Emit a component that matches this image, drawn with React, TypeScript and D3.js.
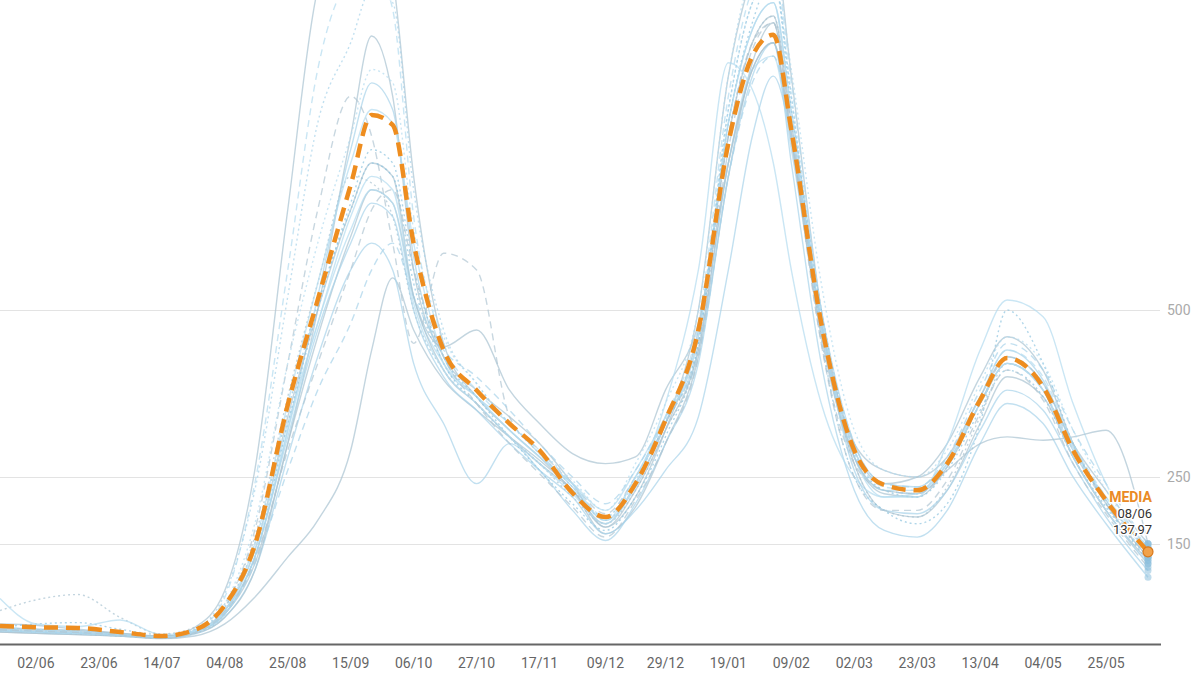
import React, { useEffect, useRef } from 'react';
import * as d3 from 'd3';

// anchor dates shared by every series
const dates = [
  '2020-05-21', '2020-06-02', '2020-06-16', '2020-06-30', '2020-07-14', '2020-07-25',
  '2020-08-04', '2020-08-14', '2020-08-25', '2020-09-04', '2020-09-15', '2020-09-22',
  '2020-09-29', '2020-10-06', '2020-10-16', '2020-10-27', '2020-11-07', '2020-11-17',
  '2020-11-28', '2020-12-09', '2020-12-19', '2020-12-29', '2021-01-09', '2021-01-19',
  '2021-01-27', '2021-02-03', '2021-02-09', '2021-02-19', '2021-03-02', '2021-03-12',
  '2021-03-23', '2021-04-02', '2021-04-13', '2021-04-22', '2021-05-04', '2021-05-14',
  '2021-05-25', '2021-06-08',
];

const media = [27, 25, 24, 18, 12, 21, 58, 148, 358, 515, 687, 792, 777, 600, 440, 380, 330, 290, 226, 190, 240, 335, 470, 750, 880, 912, 770, 480, 290, 238, 230, 270, 365, 428, 385, 290, 215, 137.97];

const s1 = [22, 20, 18, 14, 10, 25, 80, 260, 650, 980, 1080, 1100, 1000, 700, 450, 370, 320, 280, 230, 180, 240, 330, 500, 850, 1000, 1050, 850, 500, 290, 240, 250, 300, 400, 460, 410, 300, 210, 130];
const s2 = [30, 28, 22, 16, 12, 18, 45, 120, 300, 500, 760, 910, 820, 560, 430, 380, 340, 300, 240, 175, 220, 320, 470, 760, 900, 940, 780, 480, 280, 225, 220, 265, 360, 420, 380, 280, 200, 125];
const s3 = [25, 22, 20, 15, 11, 20, 50, 130, 320, 520, 740, 840, 800, 580, 420, 370, 330, 285, 235, 185, 235, 330, 460, 780, 920, 960, 800, 500, 300, 240, 235, 275, 370, 440, 395, 295, 215, 140];
const s4 = [18, 16, 14, 12, 8, 12, 30, 70, 130, 185, 290, 440, 548, 470, 395, 350, 310, 275, 230, 165, 205, 300, 430, 700, 870, 930, 760, 470, 270, 200, 190, 230, 330, 400, 370, 280, 200, 120];
const s5 = [20, 18, 16, 13, 10, 18, 55, 170, 420, 650, 820, 760, 600, 450, 585, 560, 340, 290, 240, 195, 250, 330, 450, 760, 900, 930, 760, 450, 270, 230, 225, 265, 360, 430, 390, 290, 210, 130];
const s6 = [24, 22, 20, 16, 12, 20, 50, 140, 340, 500, 650, 720, 700, 520, 445, 470, 380, 330, 285, 270, 280, 380, 480, 720, 860, 900, 760, 480, 300, 260, 250, 280, 370, 430, 390, 300, 230, 150];
const s7 = [20, 18, 16, 12, 9, 15, 40, 110, 280, 430, 560, 600, 560, 420, 330, 240, 300, 260, 200, 155, 210, 300, 420, 700, 850, 900, 720, 420, 230, 170, 160, 200, 300, 360, 330, 250, 180, 100];
const s8 = [25, 30, 32, 22, 14, 22, 55, 150, 350, 510, 650, 720, 700, 540, 420, 360, 310, 270, 230, 190, 250, 330, 450, 780, 930, 1000, 800, 500, 290, 230, 220, 260, 350, 410, 370, 280, 205, 130];
const s9 = [50, 66, 74, 40, 15, 25, 60, 160, 370, 540, 700, 690, 640, 500, 410, 360, 310, 270, 220, 180, 230, 320, 440, 760, 900, 940, 780, 480, 270, 200, 190, 235, 340, 420, 380, 290, 215, 140];
const s10 = [68, 30, 26, 36, 14, 20, 50, 140, 330, 480, 640, 700, 680, 520, 420, 370, 320, 280, 240, 200, 260, 340, 440, 720, 860, 880, 740, 470, 280, 230, 230, 270, 360, 420, 380, 290, 220, 145];
const s11 = [22, 20, 18, 15, 10, 18, 45, 120, 260, 380, 480, 560, 600, 520, 440, 400, 350, 300, 250, 210, 260, 340, 430, 700, 840, 880, 760, 490, 300, 240, 235, 280, 380, 450, 410, 320, 240, 150];
const s12 = [20, 18, 16, 14, 10, 18, 50, 150, 360, 540, 720, 800, 780, 600, 430, 370, 320, 280, 240, 185, 250, 340, 460, 780, 920, 960, 790, 480, 280, 220, 220, 300, 440, 515, 490, 360, 240, 140];
const s13 = [20, 18, 15, 12, 9, 16, 45, 130, 330, 500, 660, 740, 720, 560, 430, 370, 310, 260, 210, 170, 220, 310, 450, 800, 960, 1000, 820, 460, 250, 200, 180, 210, 330, 500, 420, 300, 210, 125];
const s14 = [18, 16, 14, 12, 9, 16, 40, 110, 300, 460, 610, 680, 660, 520, 410, 360, 310, 270, 230, 175, 230, 320, 440, 720, 860, 900, 750, 460, 280, 230, 225, 260, 300, 310, 305, 310, 320, 150];
const s15 = [24, 22, 19, 14, 10, 20, 60, 180, 420, 600, 760, 860, 840, 620, 460, 390, 330, 290, 245, 200, 270, 360, 500, 850, 1000, 1020, 860, 540, 320, 260, 250, 290, 390, 460, 420, 320, 230, 145];
const s16 = [20, 18, 16, 13, 10, 18, 45, 130, 320, 480, 620, 680, 660, 510, 410, 360, 310, 270, 225, 180, 240, 360, 560, 870, 830, 720, 560, 360, 250, 220, 225, 270, 360, 420, 380, 280, 200, 120];
const s17 = [20, 18, 16, 13, 10, 18, 45, 130, 310, 470, 600, 660, 640, 500, 400, 350, 300, 260, 220, 165, 200, 260, 340, 560, 760, 850, 760, 480, 260, 200, 195, 230, 320, 380, 350, 270, 190, 110];
const s18 = [20, 18, 16, 13, 10, 20, 70, 240, 560, 860, 1000, 1020, 950, 640, 450, 380, 330, 290, 240, 190, 250, 340, 480, 820, 980, 1020, 840, 500, 290, 235, 230, 270, 370, 440, 400, 300, 220, 135];
const s19 = [22, 20, 18, 14, 10, 22, 75, 230, 520, 780, 900, 980, 960, 680, 470, 390, 330, 285, 235, 185, 245, 335, 470, 800, 960, 1000, 820, 490, 285, 230, 225, 265, 360, 430, 390, 300, 215, 130];
const s20 = [21, 19, 17, 13, 9, 17, 48, 125, 290, 420, 560, 650, 680, 560, 430, 360, 300, 255, 205, 160, 215, 300, 430, 740, 890, 930, 770, 450, 250, 200, 200, 245, 345, 410, 365, 270, 195, 115];

const series = [s1, s2, s3, s4, s5, s6, s7, s8, s9, s10, s11, s12, s13, s14, s15, s16, s17, s18, s19, s20];
// look of each thin line: colour, dash
const lineStyles = [
  ['#a9c3d2', ''], ['#a9c3d2', ''], ['#a8d3ea', ''], ['#a9c3d2', ''], ['#b0c6d3', '7,5'],
  ['#a9c3d2', ''], ['#a8d3ea', ''], ['#8fc4e0', '2,3'], ['#a9c3d2', '2,3'], ['#b3dbef', ''],
  ['#a8d3ea', '7,5'], ['#b3dbef', ''], ['#8fc4e0', '2,3'], ['#a9c3d2', ''], ['#b3dbef', '2,3'],
  ['#b3dbef', ''], ['#a8d3ea', ''], ['#b3dbef', '7,5'], ['#a8d3ea', '2,3'], ['#b0c6d3', '7,5'],
];

const xTicks = [
  '2020-06-02', '2020-06-23', '2020-07-14', '2020-08-04', '2020-08-25', '2020-09-15',
  '2020-10-06', '2020-10-27', '2020-11-17', '2020-12-09', '2020-12-29', '2021-01-19',
  '2021-02-09', '2021-03-02', '2021-03-23', '2021-04-13', '2021-05-04', '2021-05-25',
];
const yTicks = [150, 250, 500];

const App = () => {
  const ref = useRef(null);

  useEffect(() => {
    if (!ref.current) return;
    document.body.style.margin = '0';
    const svg = d3.select(ref.current);
    svg.selectAll('*').remove();

    const font = 'Roboto, sans-serif';
    const parse = d3.utcParse('%Y-%m-%d');
    const xs = dates.map(d => parse(d));

    const x = d3.scaleUtc().domain([parse('2020-05-21'), parse('2021-06-08')]).range([0, 1148]);
    const y = d3.scaleLinear().domain([0, 964]).range([644, 0]);

    svg.append('defs').append('clipPath').attr('id', 'plot')
      .append('rect').attr('x', 0).attr('y', 0).attr('width', 1200).attr('height', 644);

    // grid
    svg.append('g')
      .selectAll('line')
      .data(yTicks)
      .join('line')
      .attr('x1', 0)
      .attr('x2', 1160)
      .attr('y1', d => Math.round(y(d)) + 0.5)
      .attr('y2', d => Math.round(y(d)) + 0.5)
      .attr('stroke', '#e3e3e3');

    svg.append('g')
      .selectAll('text')
      .data(yTicks)
      .join('text')
      .attr('x', 1167)
      .attr('y', d => y(d) + 5)
      .attr('fill', '#aaa')
      .style('font-family', font)
      .style('font-size', '14px')
      .text(d => d);

    const line = (vals) => d3.line()
      .x((d, i) => x(xs[i]))
      .y(d => y(d))
      .curve(d3.curveMonotoneX)(vals);

    const g = svg.append('g').attr('clip-path', 'url(#plot)');

    series.forEach((s, i) => {
      g.append('path')
        .attr('d', line(s))
        .attr('fill', 'none')
        .attr('stroke', lineStyles[i][0])
        .attr('stroke-width', 1.4)
        .attr('stroke-dasharray', lineStyles[i][1] || null)
        .attr('opacity', 0.7);
    });

    // end dots
    g.selectAll('.enddot')
      .data(series)
      .join('circle')
      .attr('class', 'enddot')
      .attr('cx', x(xs[xs.length - 1]))
      .attr('cy', d => y(d[d.length - 1]))
      .attr('r', 3.5)
      .attr('fill', '#8dbfdc')
      .attr('opacity', 0.55);

    // media
    g.append('path')
      .attr('d', line(media))
      .attr('fill', 'none')
      .attr('stroke', '#ee8d1f')
      .attr('stroke-width', 4.5)
      .attr('stroke-dasharray', '14,8');

    const last = media[media.length - 1];
    svg.append('circle')
      .attr('cx', x(xs[xs.length - 1]))
      .attr('cy', y(last))
      .attr('r', 5)
      .attr('fill', '#f1a24a')
      .attr('stroke', '#d9781a')
      .attr('stroke-width', 1.2);

    const lab = svg.append('g').style('font-family', font).attr('text-anchor', 'end');
    lab.append('text').attr('x', 1152).attr('y', 502)
      .attr('fill', '#ea8a25').style('font-size', '14px').style('font-weight', 'bold')
      .attr('stroke', 'white').attr('stroke-width', 3).attr('paint-order', 'stroke')
      .text('MEDIA');
    lab.append('text').attr('x', 1152).attr('y', 518)
      .attr('fill', '#333').style('font-size', '13px')
      .attr('stroke', 'white').attr('stroke-width', 3).attr('paint-order', 'stroke')
      .text(d3.utcFormat('%d/%m')(xs[xs.length - 1]));
    lab.append('text').attr('x', 1152).attr('y', 534)
      .attr('fill', '#333').style('font-size', '13px')
      .attr('stroke', 'white').attr('stroke-width', 3).attr('paint-order', 'stroke')
      .text(last.toFixed(2).replace('.', ','));

    // x axis
    svg.append('line')
      .attr('x1', 0).attr('x2', 1161)
      .attr('y1', 644.5).attr('y2', 644.5)
      .attr('stroke', '#666').attr('stroke-width', 2);

    svg.append('g')
      .selectAll('text')
      .data(xTicks)
      .join('text')
      .attr('x', d => x(parse(d)))
      .attr('y', 668)
      .attr('text-anchor', 'middle')
      .attr('fill', '#666')
      .style('font-family', font)
      .style('font-size', '14px')
      .text(d => d3.utcFormat('%d/%m')(parse(d)));
  }, []);

  return <svg ref={ref} width={1200} height={675} style={{ display: 'block', background: '#fff' }} />;
};

export default App;
